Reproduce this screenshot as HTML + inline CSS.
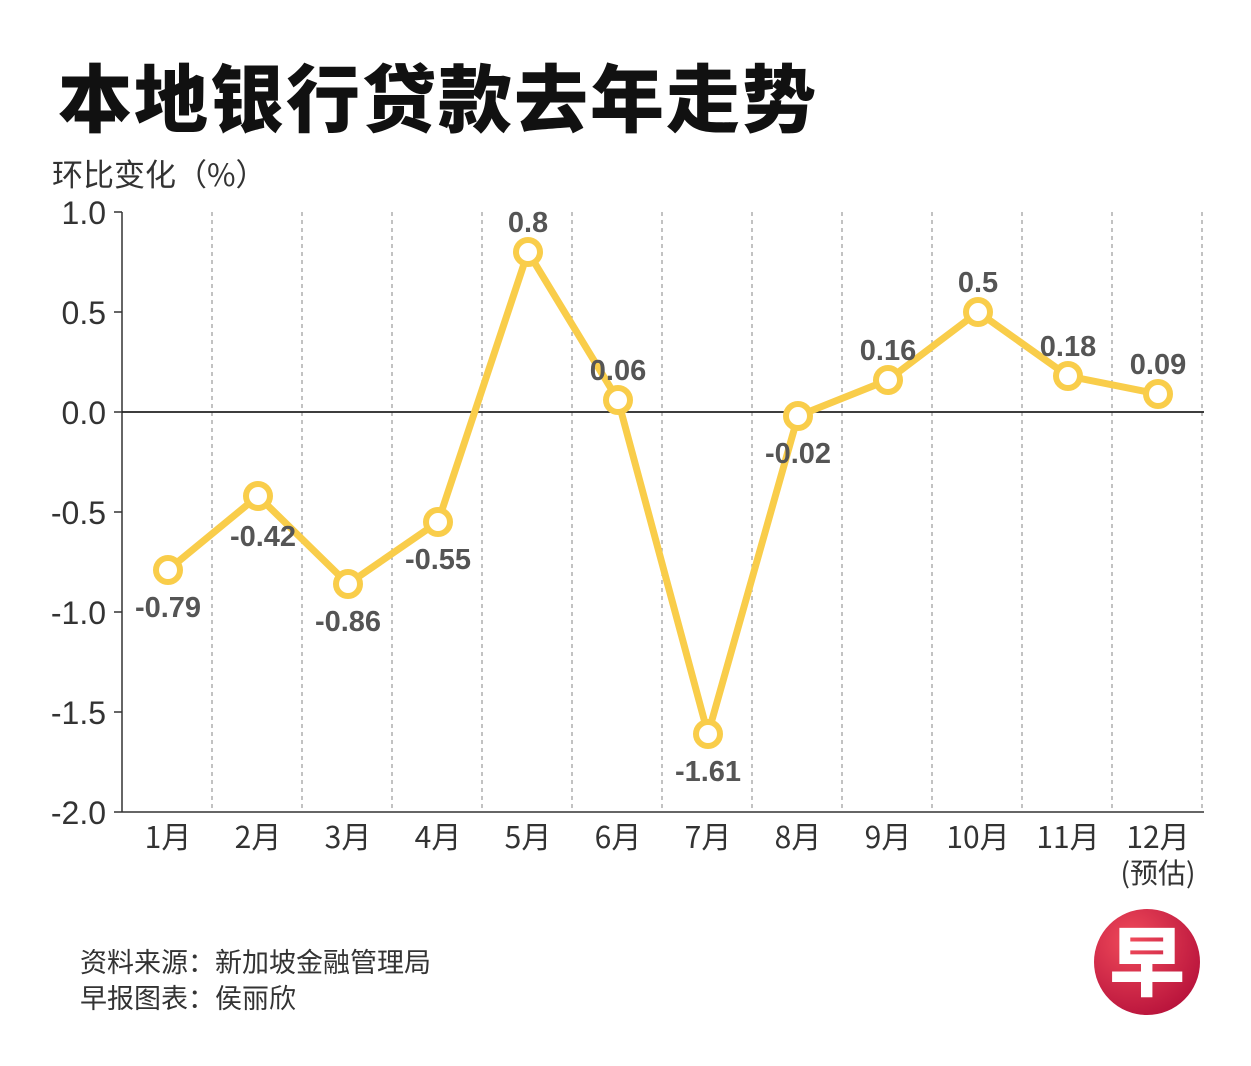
<!DOCTYPE html>
<html><head><meta charset="utf-8"><style>
html,body{margin:0;padding:0;background:#fff;}
body{width:1251px;height:1066px;position:relative;overflow:hidden;font-family:"Liberation Sans","Noto Sans CJK SC",sans-serif;}
</style></head><body>
<svg id="chart" width="1251" height="1066" xmlns="http://www.w3.org/2000/svg" style="position:absolute;left:0;top:0">
<defs><radialGradient id="lg" cx="0.35" cy="0.3" r="0.8"><stop offset="0" stop-color="#f04a5a"/><stop offset="1" stop-color="#b5103a"/></radialGradient></defs>
<text x="58" y="126" font-size="74" letter-spacing="2" font-weight="900" fill="#111" font-family="'Noto Sans CJK SC',sans-serif">本地银行贷款去年走势</text>
<text x="52" y="186" font-size="31" fill="#333" font-family="'Noto Sans CJK SC',sans-serif">环比变化（%）</text>
<g id="grid"></g><g id="axes"></g><g id="series"></g>
<text x="80" y="972" font-size="27" fill="#333" font-family="'Noto Sans CJK SC',sans-serif">资料来源：新加坡金融管理局</text>
<text x="80" y="1008" font-size="27" fill="#333" font-family="'Noto Sans CJK SC',sans-serif">早报图表：侯丽欣</text>
<g>
<circle cx="1147" cy="962" r="53" fill="url(#lg)"/>
<text x="1147" y="990" text-anchor="middle" font-size="76" font-weight="900" fill="#fff" font-family="'Noto Sans CJK SC',sans-serif">早</text>
</g>
</svg>
<script>
const categories=["1月","2月","3月","4月","5月","6月","7月","8月","9月","10月","11月","12月"];
const values=[-0.79,-0.42,-0.86,-0.55,0.8,0.06,-1.61,-0.02,0.16,0.5,0.18,0.09];
const yTicks=[1.0,0.5,0.0,-0.5,-1.0,-1.5,-2.0];
const yTickLabels=["1.0","0.5","0.0","-0.5","-1.0","-1.5","-2.0"];
const NS="http://www.w3.org/2000/svg";
const left=122,bw=90,yTop=212,yBot=812,yMin=-2,yMax=1;
const X=i=>left+bw*i+bw/2+1;
const Y=v=>yBot-(v-yMin)/(yMax-yMin)*(yBot-yTop);
function mk(tag,attrs,parent,txt){const e=document.createElementNS(NS,tag);for(const k in attrs)e.setAttribute(k,attrs[k]);if(txt!==undefined)e.textContent=txt;document.getElementById(parent).appendChild(e);return e;}
const F="'Liberation Sans','Noto Sans CJK SC',sans-serif";
categories.forEach((c,i)=>{
 const gx=left+bw*(i+1);
 const g=mk('line',{x1:gx,x2:gx,y1:yTop,y2:yBot,stroke:'#999','stroke-width':1.2,'stroke-dasharray':'4,4'},'grid');
 
 
 const t=mk('text',{x:X(i),y:848,'text-anchor':'middle','font-size':30,fill:'#333','font-family':"'Noto Sans CJK SC',sans-serif"},'axes',c);
 
 
});
const est=mk('text',{x:X(11),y:883,'text-anchor':'middle','font-size':28,fill:'#333','font-family':"'Noto Sans CJK SC',sans-serif"},'axes','(预估)');


const ya=mk('line',{x1:left,x2:left,y1:yTop,y2:yBot,stroke:'#333','stroke-width':1.5},'axes');


const xa=mk('line',{x1:left,x2:1204,y1:yBot,y2:yBot,stroke:'#333','stroke-width':1.5},'axes');


const zl=mk('line',{x1:left,x2:1204,y1:Y(0),y2:Y(0),stroke:'#222','stroke-width':1.8},'axes');


yTicks.forEach((v,i)=>{
 mk('line',{x1:left-8,x2:left,y1:Y(v),y2:Y(v),stroke:'#333','stroke-width':1.5},'axes');
 const t=mk('text',{x:106,y:Y(v)+12,'text-anchor':'end','font-size':32,fill:'#333','font-family':F},'axes',yTickLabels[i]);
 
 
});
const pts=values.map((v,i)=>X(i)+','+Y(v)).join(' ');
const line=mk('polyline',{points:pts,fill:'none',stroke:'#f9cd4a','stroke-width':7,'stroke-linejoin':'round'},'series');


values.forEach((v,i)=>{
 const c=mk('circle',{cx:X(i),cy:Y(v),r:12,fill:'#fff',stroke:'#f9cd4a','stroke-width':6},'series');
 
 
 const below=v<0;
 let lx=X(i),ly=below?Y(v)+47:Y(v)-20;
 if(i===1){lx=X(i)+5;ly=Y(v)+50;}
 const t=mk('text',{x:lx,y:ly,'text-anchor':'middle','font-size':29,'font-weight':'bold',fill:'#555','font-family':F},'series',String(v));
 
 
});
</script>
</body></html>
